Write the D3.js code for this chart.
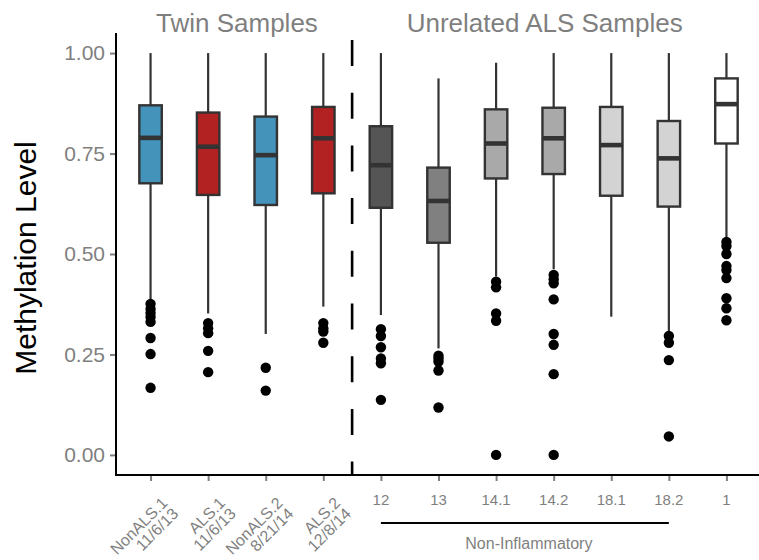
<!DOCTYPE html>
<html>
<head>
<meta charset="utf-8">
<script src="https://cdn.jsdelivr.net/npm/d3@7/dist/d3.min.js"></script>
<style>
  html, body { margin: 0; padding: 0; background: #fff; }
  svg { display: block; font-family: "Liberation Sans", Arial, Helvetica, sans-serif; }
</style>
</head>
<body>
<svg id="chart" width="759" height="560"></svg>
<script>
// ---- data ----
const categories = ["NonALS.1 11/6/13", "ALS.1 11/6/13", "NonALS.2 8/21/14", "ALS.2 12/8/14",
                    "12", "13", "14.1", "14.2", "18.1", "18.2", "1"];
const labelLine1 = ["NonALS.1", "ALS.1", "NonALS.2", "ALS.2", "12", "13", "14.1", "14.2", "18.1", "18.2", "1"];
const labelLine2 = ["11/6/13", "11/6/13", "8/21/14", "12/8/14", "", "", "", "", "", "", ""];
const whiskerLow  = [0.386, 0.352, 0.301, 0.369, 0.348, 0.265, 0.444, 0.462, 0.344, 0.303, 0.541];
const q1          = [0.676, 0.647, 0.622, 0.651, 0.615, 0.528, 0.688, 0.699, 0.645, 0.618, 0.775];
const medians     = [0.789, 0.767, 0.746, 0.788, 0.721, 0.632, 0.775, 0.788, 0.771, 0.738, 0.873];
const q3          = [0.870, 0.852, 0.842, 0.866, 0.818, 0.715, 0.860, 0.864, 0.866, 0.831, 0.937];
const whiskerHigh = [1.000, 1.000, 1.000, 1.000, 1.000, 0.937, 0.976, 1.000, 1.000, 1.000, 1.000];
const outliers = [
  [0.376, 0.363, 0.353, 0.343, 0.331, 0.291, 0.251, 0.167],
  [0.328, 0.315, 0.303, 0.259, 0.206],
  [0.217, 0.160],
  [0.328, 0.315, 0.307, 0.279],
  [0.313, 0.296, 0.268, 0.240, 0.228, 0.137],
  [0.247, 0.240, 0.232, 0.210, 0.118],
  [0.431, 0.417, 0.352, 0.334, 0.0],
  [0.448, 0.437, 0.427, 0.387, 0.301, 0.274, 0.201, 0.0],
  [],
  [0.296, 0.279, 0.236, 0.046],
  [0.53, 0.52, 0.50, 0.47, 0.46, 0.44, 0.39, 0.365, 0.335]
];
const yTicks = [0, 0.25, 0.5, 0.75, 1.0];
const groupTitles = ["Twin Samples", "Unrelated ALS Samples"];
const bracketLabel = "Non-Inflammatory";
const bracketFrom = "12", bracketTo = "18.2";
const yTitle = "Methylation Level";
const palette = ["#4493BA", "#B22222", "#4493BA", "#B22222", "#555555", "#808080",
                 "#A9A9A9", "#A9A9A9", "#D3D3D3", "#D3D3D3", "#FFFFFF"];

// ---- layout ----
const svg = d3.select("#chart");
const panel = { left: 116, right: 761, top: 33, bottom: 475 };

const x = d3.scalePoint().domain(categories).range([panel.left, panel.right]).padding(0.6);
const y = d3.scaleLinear().domain([-0.05, 1.05]).range([panel.bottom, panel.top]);
const color = d3.scaleOrdinal().domain(categories).range(palette);
const boxW = x.step() * 0.39;

const data = categories.map((c, i) => ({
  cat: c, lo: whiskerLow[i], q1: q1[i], med: medians[i], q3: q3[i], hi: whiskerHigh[i], out: outliers[i]
}));

const grey = "#7F7F7F";
const dark = "#333333";

// dashed separator between groups
const sepX = (x(categories[3]) + x(categories[4])) / 2;
svg.append("line")
  .attr("x1", sepX).attr("x2", sepX)
  .attr("y1", panel.top).attr("y2", panel.bottom)
  .attr("stroke", "#000").attr("stroke-width", 2.6)
  .attr("stroke-dasharray", "26,26.7").attr("stroke-dashoffset", 45.7);

const g = svg.append("g");
const boxes = g.selectAll("g.box").data(data).join("g").attr("class", "box");

// whiskers
boxes.append("line")
  .attr("x1", d => x(d.cat)).attr("x2", d => x(d.cat))
  .attr("y1", d => y(d.hi)).attr("y2", d => y(d.q3))
  .attr("stroke", dark).attr("stroke-width", 2.2);
boxes.append("line")
  .attr("x1", d => x(d.cat)).attr("x2", d => x(d.cat))
  .attr("y1", d => y(d.q1)).attr("y2", d => y(d.lo))
  .attr("stroke", dark).attr("stroke-width", 2.2);

// boxes
boxes.append("rect")
  .attr("x", d => x(d.cat) - boxW / 2).attr("width", boxW)
  .attr("y", d => y(d.q3)).attr("height", d => y(d.q1) - y(d.q3))
  .attr("fill", d => color(d.cat))
  .attr("stroke", dark).attr("stroke-width", 2.4);

// medians
boxes.append("line")
  .attr("x1", d => x(d.cat) - boxW / 2).attr("x2", d => x(d.cat) + boxW / 2)
  .attr("y1", d => y(d.med)).attr("y2", d => y(d.med))
  .attr("stroke", dark).attr("stroke-width", 4.6);

// outliers
boxes.selectAll("circle").data(d => d.out.map(v => ({ cat: d.cat, v })))
  .join("circle")
  .attr("cx", d => x(d.cat)).attr("cy", d => y(d.v)).attr("r", 5.2)
  .attr("fill", "#000");

// axes
const yAxis = d3.axisLeft(y).tickValues(yTicks).tickFormat(d3.format(".2f")).tickSize(6).tickPadding(5);
const yg = svg.append("g").attr("transform", `translate(${panel.left},0)`).call(yAxis);
yg.select(".domain").remove();
yg.selectAll(".tick line").attr("stroke", grey).attr("stroke-width", 2);
yg.selectAll(".tick text").attr("fill", grey).style("font-size", "21px")
  .style("font-family", "'Liberation Sans', Arial, sans-serif");

const xAxis = d3.axisBottom(x).tickSize(6).tickFormat(() => "");
const xg = svg.append("g").attr("transform", `translate(0,${panel.bottom})`).call(xAxis);
xg.select(".domain").remove();
xg.selectAll(".tick line").attr("stroke", grey).attr("stroke-width", 2);

// axis lines
svg.append("line").attr("x1", panel.left).attr("x2", panel.left)
  .attr("y1", panel.top).attr("y2", panel.bottom + 1)
  .attr("stroke", "#000").attr("stroke-width", 2);
svg.append("line").attr("x1", panel.left - 1).attr("x2", 759)
  .attr("y1", panel.bottom).attr("y2", panel.bottom)
  .attr("stroke", "#000").attr("stroke-width", 2);

// x tick labels
categories.forEach((c, i) => {
  if (labelLine2[i]) {
    const t = svg.append("text")
      .attr("transform", `translate(${x(c) + 18},${panel.bottom + 29}) rotate(-45)`)
      .attr("text-anchor", "end").attr("fill", grey).style("font-size", "16px");
    t.append("tspan").attr("x", 0).attr("dy", 0).text(labelLine1[i]);
    t.append("tspan").attr("x", 0).attr("dy", "0.95em").text(labelLine2[i]);
  } else {
    svg.append("text").attr("x", x(c)).attr("y", panel.bottom + 30)
      .attr("text-anchor", "middle").attr("fill", grey).style("font-size", "15px")
      .text(labelLine1[i]);
  }
});

// bracket
svg.append("line").attr("x1", x(bracketFrom)).attr("x2", x(bracketTo))
  .attr("y1", 523).attr("y2", 523).attr("stroke", "#000").attr("stroke-width", 2);
svg.append("text").attr("x", (x(bracketFrom) + x(bracketTo)) / 2).attr("dx", 4).attr("y", 549)
  .attr("text-anchor", "middle").attr("fill", grey).style("font-size", "16px").text(bracketLabel);

// group titles
svg.append("text").attr("x", (x(categories[0]) + x(categories[3])) / 2).attr("y", 32)
  .attr("text-anchor", "middle").attr("fill", grey).style("font-size", "26px").text(groupTitles[0]);
svg.append("text").attr("x", (x(categories[4]) + x(categories[10])) / 2).attr("dx", -9).attr("y", 32)
  .attr("text-anchor", "middle").attr("fill", grey).style("font-size", "26px").text(groupTitles[1]);

// y title
svg.append("text").attr("transform", `translate(36,${(panel.top + panel.bottom) / 2 + 4}) rotate(-90)`)
  .attr("text-anchor", "middle").attr("fill", "#000").style("font-size", "30px").text(yTitle);
</script>
</body>
</html>
